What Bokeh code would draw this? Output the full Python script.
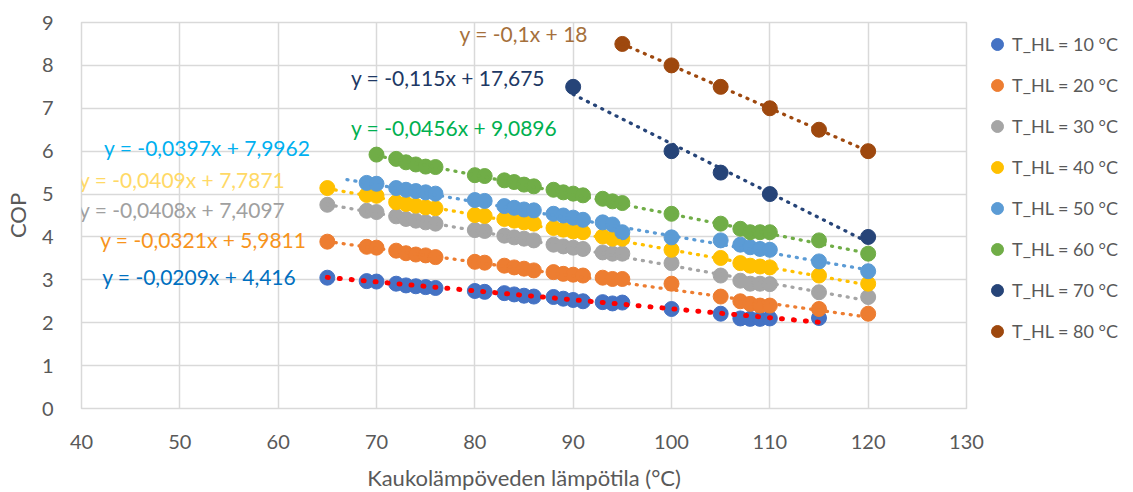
from bokeh.plotting import figure
from bokeh.models import (Range1d, SingleIntervalTicker, Legend, LegendItem,
                          ColumnDataSource, LabelSet)
from bokeh.core.properties import value
from bokeh.embed import file_html
from bokeh.resources import INLINE

# ---------------- data ----------------
series_names = ["T_HL = 10 °C", "T_HL = 20 °C", "T_HL = 30 °C", "T_HL = 40 °C",
                "T_HL = 50 °C", "T_HL = 60 °C", "T_HL = 70 °C", "T_HL = 80 °C"]

x_10 = [65, 69, 70, 72, 73, 74, 75, 76, 80, 81, 83, 84, 85, 86, 88, 89, 90, 91, 93, 94, 95,
        100, 105, 107, 108, 109, 110, 115]
y_10 = [3.05, 2.97, 2.96, 2.91, 2.87, 2.85, 2.83, 2.81, 2.74, 2.72, 2.69, 2.66, 2.63, 2.61,
        2.60, 2.56, 2.53, 2.50, 2.48, 2.45, 2.47, 2.32, 2.21, 2.10, 2.09, 2.09, 2.10, 2.11]

x_20 = [65, 69, 70, 72, 73, 74, 75, 76, 80, 81, 83, 84, 85, 86, 88, 89, 90, 91, 93, 94, 95,
        100, 105, 107, 108, 109, 110, 115, 120]
y_20 = [3.89, 3.77, 3.75, 3.68, 3.62, 3.59, 3.57, 3.53, 3.42, 3.40, 3.33, 3.29, 3.26, 3.22,
        3.18, 3.14, 3.12, 3.10, 3.05, 3.02, 3.02, 2.91, 2.61, 2.50, 2.44, 2.40, 2.40, 2.32, 2.21]

x_30 = [65, 69, 70, 72, 73, 74, 75, 76, 80, 81, 83, 84, 85, 86, 88, 89, 90, 91, 93, 94, 95,
        100, 105, 107, 108, 109, 110, 115, 120]
y_30 = [4.75, 4.61, 4.58, 4.48, 4.42, 4.38, 4.34, 4.31, 4.16, 4.14, 4.03, 3.99, 3.96, 3.92,
        3.82, 3.78, 3.75, 3.72, 3.64, 3.61, 3.61, 3.39, 3.10, 2.98, 2.91, 2.91, 2.90, 2.71, 2.60]

x_40 = [65, 69, 70, 72, 73, 74, 75, 76, 80, 81, 83, 84, 85, 86, 88, 89, 90, 91, 93, 94, 95,
        100, 105, 107, 108, 109, 110, 115, 120]
y_40 = [5.14, 4.98, 4.96, 4.81, 4.77, 4.73, 4.69, 4.67, 4.51, 4.49, 4.42, 4.38, 4.34, 4.31,
        4.21, 4.17, 4.13, 4.11, 4.01, 3.96, 3.96, 3.70, 3.51, 3.39, 3.33, 3.31, 3.29, 3.10, 2.91]

x_50 = [69, 70, 72, 73, 74, 75, 76, 80, 81, 83, 84, 85, 86, 88, 89, 90, 91, 93, 94, 95,
        100, 105, 107, 108, 109, 110, 115, 120]
y_50 = [5.26, 5.24, 5.14, 5.10, 5.07, 5.04, 5.01, 4.86, 4.84, 4.72, 4.68, 4.64, 4.62,
        4.54, 4.50, 4.45, 4.40, 4.34, 4.29, 4.11, 3.99, 3.92, 3.82, 3.76, 3.72, 3.70, 3.43, 3.20]

x_60 = [70, 72, 73, 74, 75, 76, 80, 81, 83, 84, 85, 86, 88, 89, 90, 91, 93, 94, 95,
        100, 105, 107, 108, 109, 110, 115, 120]
y_60 = [5.92, 5.82, 5.74, 5.69, 5.64, 5.63, 5.44, 5.42, 5.32, 5.28, 5.22, 5.18, 5.10, 5.04,
        5.01, 4.97, 4.89, 4.83, 4.79, 4.54, 4.31, 4.19, 4.11, 4.11, 4.11, 3.92, 3.61]

x_70 = [90, 100, 105, 110, 120]
y_70 = [7.5, 6.0, 5.5, 5.0, 4.0]

x_80 = [95, 100, 105, 110, 115, 120]
y_80 = [8.5, 8.0, 7.5, 7.0, 6.5, 6.0]

# linear trendlines (slope, intercept) and their printed equations
trend_slope = [-0.0209, -0.0321, -0.0408, -0.0409, -0.0397, -0.0456, -0.115, -0.1]
trend_intercept = [4.416, 5.9811, 7.4097, 7.7871, 7.9962, 9.0896, 17.675, 18.0]
trend_from = [65, 65, 65, 65, 67, 70, 90, 95]
trend_to = [115, 120, 120, 120, 120, 120, 120, 120]
trend_labels = ["y = -0,0209x + 4,416", "y = -0,0321x + 5,9811", "y = -0,0408x + 7,4097",
                "y = -0,0409x + 7,7871", "y = -0,0397x + 7,9962", "y = -0,0456x + 9,0896",
                "y = -0,115x + 17,675", "y = -0,1x + 18"]

xs_all = [x_10, x_20, x_30, x_40, x_50, x_60, x_70, x_80]
ys_all = [y_10, y_20, y_30, y_40, y_50, y_60, y_70, y_80]

# ---------------- styling ----------------
marker_colors = ["#4472C4", "#ED7D31", "#A5A5A5", "#FFC000",
                 "#5B9BD5", "#70AD47", "#264478", "#9E480E"]
trend_colors = ["#FF0000", "#ED7D31", "#A5A5A5", "#FFC000",
                "#5B9BD5", "#70AD47", "#264478", "#9E480E"]
label_colors = ["#0070C0", "#F7941D", "#A0A0A0", "#FFD966",
                "#00B0F0", "#00B050", "#203864", "#A5703C"]
label_x = [42.1, 41.9, 39.75, 39.75, 42.3, 67.4, 67.4, 78.45]
label_y = [3.08, 3.93, 4.63, 5.33, 6.09, 6.55, 7.72, 8.74]

FONT = "Lato"
GRID = "#D9D9D9"
TXT = "#595959"

p = figure(frame_width=885, frame_height=386, output_backend="svg", toolbar_location=None,
           x_range=Range1d(40, 130), y_range=Range1d(0, 9),
           min_border_left=81, min_border_right=0, min_border_top=22, min_border_bottom=84)
p.background_fill_color = "white"
p.border_fill_color = "white"
p.outline_line_color = GRID
p.outline_line_width = 1.5

p.xaxis.ticker = SingleIntervalTicker(interval=10)
p.yaxis.ticker = SingleIntervalTicker(interval=1)
for ax in (p.xaxis, p.yaxis):
    ax.axis_line_color = None
    ax.major_tick_line_color = None
    ax.minor_tick_line_color = None
    ax.major_label_text_font = FONT
    ax.major_label_text_font_size = "20px"
    ax.major_label_text_color = TXT
    ax.axis_label_text_font = FONT
    ax.axis_label_text_font_size = "22px"
    ax.axis_label_text_font_style = "normal"
    ax.axis_label_text_color = TXT
p.yaxis.major_label_standoff = 22
p.xaxis.major_label_standoff = 20
p.xaxis.axis_label = "Kaukolämpöveden lämpötila (°C)"
p.yaxis.axis_label = "COP"
p.xaxis.axis_label_standoff = 12
p.yaxis.axis_label_standoff = 8

p.xgrid.grid_line_color = GRID
p.ygrid.grid_line_color = GRID
p.xgrid.grid_line_width = 1.5
p.ygrid.grid_line_width = 1.5

# markers
renderers = []
for xs, ys, c in zip(xs_all, ys_all, marker_colors):
    r = p.scatter(xs, ys, size=15, fill_color=c, line_color=c, marker="circle")
    renderers.append(r)

# trendlines
for i in range(8):
    x0, x1 = trend_from[i], trend_to[i]
    y0 = trend_slope[i] * x0 + trend_intercept[i]
    y1 = trend_slope[i] * x1 + trend_intercept[i]
    if i == 0:
        p.line([x0, x1], [y0, y1], line_color=trend_colors[i], line_width=5,
               line_dash="1 11", line_cap="round")
    else:
        p.line([x0, x1], [y0, y1], line_color=trend_colors[i], line_width=3.3,
               line_dash="1 7", line_cap="round")

# equation labels
src = ColumnDataSource(dict(x=label_x, y=label_y, text=trend_labels, color=label_colors))
labels = LabelSet(x="x", y="y", text="text", source=src, text_color="color",
                  text_font=value(FONT), text_font_size="21px", text_baseline="middle",
                  text_align="left")
p.add_layout(labels)

# legend (outside, right)
legend = Legend(items=[LegendItem(label=n, renderers=[r]) for n, r in zip(series_names, renderers)],
                location=(16, 62), glyph_width=30, glyph_height=30, spacing=11,
                label_standoff=0, padding=0, margin=0, border_line_color=None,
                background_fill_alpha=0, label_text_font=FONT, label_text_font_size="18px",
                label_text_color=TXT, label_width=120)
p.add_layout(legend, "right")

open("out.html", "w").write(file_html(p, INLINE))
